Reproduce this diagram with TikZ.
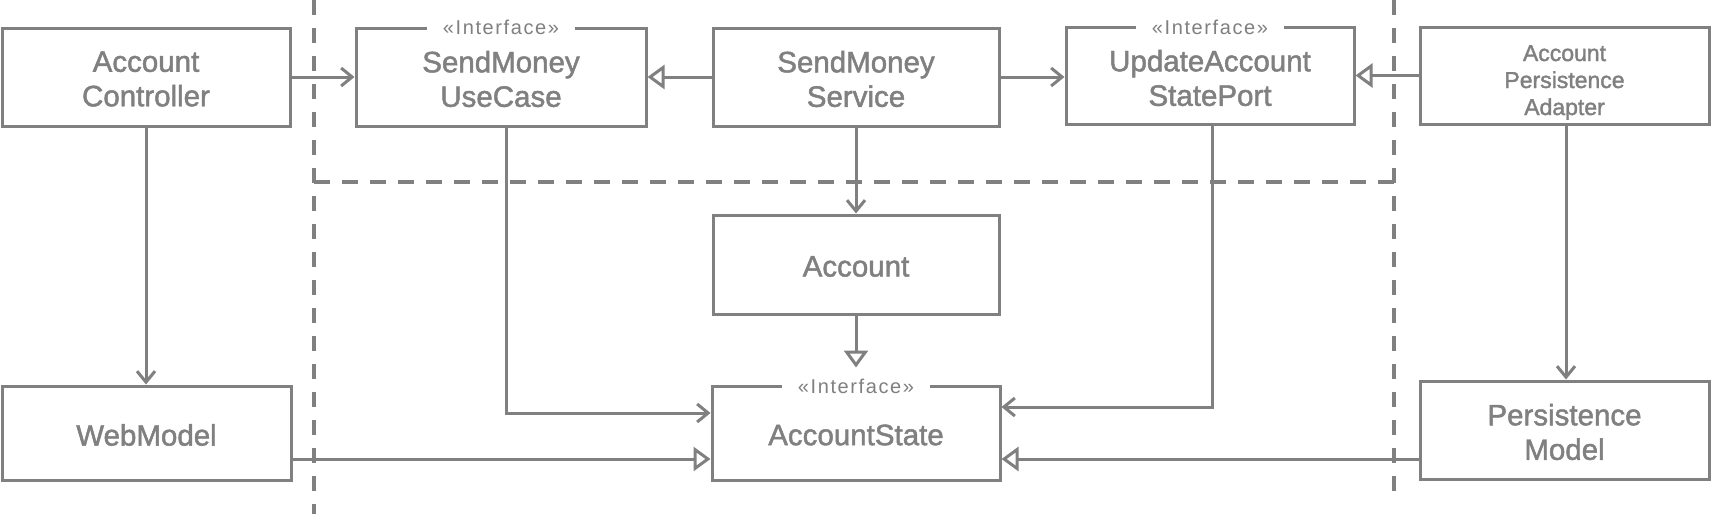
\documentclass[tikz,border=0pt]{standalone}
\usepackage{fontspec}
\setmainfont{Liberation Sans}
\newfontfamily\boxfont[BoldFont={Liberation Sans},BoldFeatures={FakeBold=1.6}]{Liberation Sans}
\newfontfamily\ifacefont[LetterSpace=8]{Liberation Sans}
\usetikzlibrary{arrows.meta}
\definecolor{ln}{HTML}{808080}
\begin{document}
\begin{tikzpicture}[x=1pt,y=-1pt,
  box/.style={draw=ln,line width=3pt,fill=white,inner sep=0pt},
  txt/.style={align=center,text=ln,inner sep=0pt,yshift=-2pt,
    font=\boxfont\bfseries\fontsize{29.5}{34.5}\selectfont},
  smalltxt/.style={txt,yshift=-5pt,font=\boxfont\bfseries\fontsize{23}{27}\selectfont},
  iface/.style={fill=white,inner xsep=16pt,inner ysep=1pt,text=ln,
    font=\ifacefont\fontsize{20}{22}\selectfont},
  dep/.style={draw=ln,line width=3pt,-{Straight Barb[length=11pt,width=18pt]}},
  gen/.style={draw=ln,line width=3pt,-{Triangle[open,length=17pt,width=24pt,fill=white]}},
  vdash/.style={draw=ln,line width=3.5pt,dash pattern=on 15pt off 13pt},
  hdash/.style={draw=ln,line width=4pt,dash pattern=on 16pt off 12pt}]
\useasboundingbox (0,0) rectangle (1712,514);
% layer separators
\draw[vdash] (314,0) -- (314,514);
\draw[vdash] (1394,0) -- (1394,492);
\draw[hdash] (314,182) -- (1394,182);
% boxes
\node[box,minimum width=288pt,minimum height=98pt,label={[txt]center:{Account\\Controller}}] (ac) at (146,77) {};
\node[box,minimum width=290pt,minimum height=98pt,label={[txt]center:{SendMoney\\UseCase}}] (uc) at (501,77) {};
\node[box,minimum width=286pt,minimum height=98pt,label={[txt]center:{SendMoney\\Service}}] (sms) at (856,77) {};
\node[box,minimum width=288pt,minimum height=97pt,label={[txt]center:{UpdateAccount\\StatePort}}] (uasp) at (1210,76) {};
\node[box,minimum width=289pt,minimum height=97pt,label={[smalltxt]center:{Account\\Persistence\\Adapter}}] (pa) at (1564.5,75.5) {};
\node[box,minimum width=286pt,minimum height=99pt,label={[txt]center:{Account}}] (acc) at (856,264.5) {};
\node[box,minimum width=288pt,minimum height=94pt,label={[txt]center:{AccountState}}] (as) at (856,433) {};
\node[box,minimum width=289pt,minimum height=94pt,label={[txt]center:{WebModel}}] (wm) at (146.5,433) {};
\node[box,minimum width=289pt,minimum height=98pt,label={[txt]center:{Persistence\\Model}}] (pm) at (1564.5,430) {};
% stereotypes
\node[iface,yshift=-1pt] (ucl) at (uc.north) {«Interface»};
\node[iface,yshift=-1pt] (uaspl) at (uasp.north) {«Interface»};
\node[iface,yshift=-2pt] (asl) at (as.north) {«Interface»};
% connectors
\draw[dep] (ac.east) -- (uc.west);
\draw[gen] (sms.west) -- (uc.east);
\draw[dep] (sms.east) -- (sms.east -| uasp.west);
\draw[gen] (pa.west) -- (pa.west -| uasp.east);
\draw[dep] (sms.south) -- (acc.north);
\draw[gen] (acc.south) -- ([yshift=17pt]as.north);
\draw[dep] ([xshift=5pt]uc.south) |- ([yshift=20pt]as.west);
\draw[dep] ([xshift=2pt]uasp.south) |- ([yshift=26pt]as.east);
\draw[dep] (ac.south) -- (ac.south |- wm.north);
\draw[gen] ([yshift=-26pt]wm.east) -- ([yshift=-26pt]as.west);
\draw[gen] ([yshift=-29pt]pm.west) -- ([yshift=-26pt]as.east);
\draw[dep] ([xshift=1.5pt]pa.south) -- ([xshift=1.5pt]pa.south |- pm.north);
\end{tikzpicture}
\end{document}
